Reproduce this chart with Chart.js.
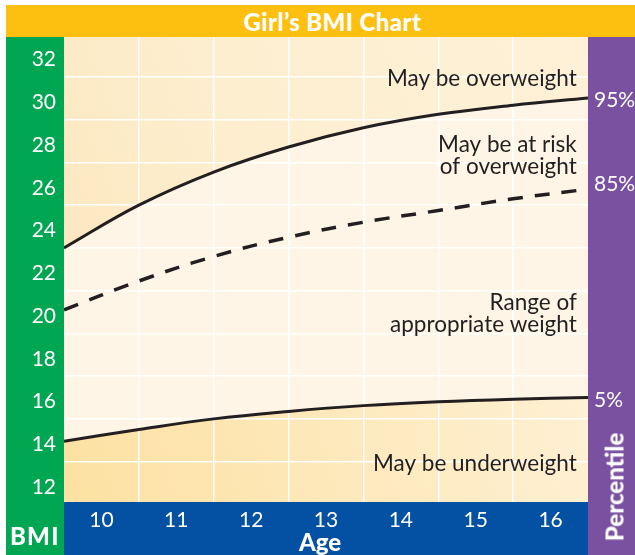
<!DOCTYPE html>
<html>
<head>
<meta charset="utf-8">
<title>Girl's BMI Chart</title>
<script src="https://cdn.jsdelivr.net/npm/chart.js@4.4.0/dist/chart.umd.min.js"></script>
<style>
  html, body { margin: 0; padding: 0; background: #fff; }
  #wrap { position: relative; width: 635px; height: 555px; overflow: hidden; font-family: Lato, "Open Sans", sans-serif; }
  .band { position: absolute; }
  #title { left: 6px; top: 5px; width: 629px; height: 32px; background: #FDC010; }
  #title span { position: absolute; left: 0; right: 0; top: 0; padding-left: 24px; text-align: center; line-height: 33px; color: #fff; font-weight: 900; font-size: 24px; letter-spacing: 0.4px; }
  #green { left: 6px; top: 37px; width: 58px; height: 518px; background: #00A651; }
  #blue { left: 64px; top: 502px; width: 524px; height: 53px; background: #0450A2; }
  #purple { left: 588px; top: 37px; width: 47px; height: 518px; background: #7A51A0; }
  #plotbg { left: 64px; top: 37px; width: 524px; height: 465px; background: #FFF5E6; }
  .lbl { position: absolute; color: #fff; font-weight: 900; white-space: nowrap; }
  #bmi { left: 10px; top: 521px; font-size: 24px; letter-spacing: 1.2px; }
  #age { left: 320px; top: 527px; font-size: 24px; transform: translateX(-50%); }
  #pct { left: 614px; top: 487px; font-size: 24px; transform: translate(-50%, -50%) rotate(-90deg); }
  canvas { position: absolute; left: 0; top: 0; }
</style>
</head>
<body>
<div id="wrap">
  <div class="band" id="title"><span>Girl’s BMI Chart</span></div>
  <div class="band" id="green"></div>
  <div class="band" id="purple"></div>
  <div class="band" id="blue"></div>
  <div class="band" id="plotbg"></div>
  <canvas id="bmiChart" width="635" height="555"></canvas>
  <div class="lbl" id="bmi">BMI</div>
  <div class="lbl" id="age">Age</div>
  <div class="lbl" id="pct">Percentile</div>
</div>
<script>
// ages where the curves were read (half years, chart runs 9.5 - 16.5)
const ages = [9.5, 10.5, 11.5, 12.5, 13.5, 14.5, 15.5, 16.5];
const p95 = [23.0, 25.0, 26.55, 27.72, 28.62, 29.25, 29.68, 30.02];
const p85 = [20.1, 21.45, 22.6, 23.5, 24.2, 24.75, 25.3, 25.75];
const p5 = [13.95, 14.5, 15.0, 15.35, 15.62, 15.8, 15.92, 16.0];

const ageTicks = [10, 11, 12, 13, 14, 15, 16];
const bmiTicks = [12, 14, 16, 18, 20, 22, 24, 26, 28, 30, 32];
const pctLabels = ['95%', '85%', '5%'];

const notes = [
  { lines: ['May be overweight'], bmi: 30.6 },
  { lines: ['May be at risk', 'of overweight'], bmi: 27.5 },
  { lines: ['Range of', 'appropriate weight'], bmi: 20.08 },
  { lines: ['May be underweight'], bmi: 12.55 }
];
const noteAge = 16.35;

const ink = '#231F20';

// grid at half years, labels on whole years
const ageAxisTicks = [];
ageTicks.forEach((a, i) => {
  ageAxisTicks.push({ value: a });
  if (i < ageTicks.length - 1) ageAxisTicks.push({ value: a + 0.5 });
});
// grid on odd BMI, labels on even
const bmiAxisTicks = [];
for (let v = bmiTicks[0]; v <= bmiTicks[bmiTicks.length - 1]; v++) bmiAxisTicks.push({ value: v });

function topFill(context) {
  const { ctx, chartArea } = context.chart;
  if (!chartArea) return '#FDEFD1';
  const g = ctx.createLinearGradient(chartArea.left, chartArea.top + 220, chartArea.right, chartArea.top);
  g.addColorStop(0, '#FCE8C0');
  g.addColorStop(0.35, '#FDEECF');
  g.addColorStop(1, '#FEF1D7');
  return g;
}

function bottomFill(context) {
  const { ctx, chartArea } = context.chart;
  if (!chartArea) return '#FDE6B0';
  const g = ctx.createLinearGradient(chartArea.left, chartArea.bottom, chartArea.right, chartArea.bottom - 110);
  g.addColorStop(0, '#FDE1A2');
  g.addColorStop(1, '#FEF0D3');
  return g;
}

const annotations = {
  id: 'annotations',
  afterDatasetsDraw(chart) {
    const { ctx, scales: { x, y }, chartArea } = chart;
    ctx.save();
    ctx.fillStyle = ink;
    ctx.font = '22.5px Lato, "Open Sans", sans-serif';
    ctx.textAlign = 'right';
    ctx.textBaseline = 'alphabetic';
    notes.forEach(n => {
      const px = x.getPixelForValue(noteAge);
      const py = y.getPixelForValue(n.bmi);
      n.lines.forEach((t, i) => ctx.fillText(t, px, py + i * 22));
    });

    // percentile names at the end of each curve
    ctx.fillStyle = '#fff';
    ctx.font = '21px Lato, "Open Sans", sans-serif';
    ctx.textAlign = 'left';
    ctx.textBaseline = 'middle';
    const nudge = [2, -5, 3];
    chart.data.datasets.forEach((ds, i) => {
      const last = ds.data[ds.data.length - 1];
      ctx.fillText(pctLabels[i], chartArea.right + 6, y.getPixelForValue(last.y) + nudge[i]);
    });
    ctx.restore();
  }
};

const toPoints = vals => vals.map((v, i) => ({ x: ages[i], y: v }));

new Chart(document.getElementById('bmiChart'), {
  type: 'line',
  data: {
    datasets: [
      {
        label: '95%',
        data: toPoints(p95),
        borderColor: ink,
        borderWidth: 3,
        fill: 'end',
        backgroundColor: topFill
      },
      {
        label: '85%',
        data: toPoints(p85),
        borderColor: ink,
        borderWidth: 3.5,
        borderDash: [15, 12],
        fill: false
      },
      {
        label: '5%',
        data: toPoints(p5),
        borderColor: ink,
        borderWidth: 3,
        fill: 'start',
        backgroundColor: bottomFill
      }
    ]
  },
  options: {
    responsive: false,
    animation: false,
    devicePixelRatio: 1,
    layout: { padding: { top: 37, right: 47, left: 0, bottom: 0 } },
    elements: {
      point: { radius: 0 },
      line: { tension: 0.4 }
    },
    datasets: { line: { clip: 0 } },
    scales: {
      x: {
        type: 'linear',
        min: 9.5,
        max: 16.5,
        afterFit: s => { s.height = 53; },
        afterBuildTicks: s => { s.ticks = ageAxisTicks.map(t => ({ ...t })); },
        border: { display: false },
        grid: {
          drawTicks: false,
          lineWidth: 1.5,
          color: c => (c.tick && c.tick.value % 1 !== 0) ? 'rgba(255,255,255,0.95)' : 'transparent'
        },
        ticks: {
          autoSkip: false,
          maxRotation: 0,
          color: '#fff',
          padding: 6,
          font: { family: 'Lato', size: 21 },
          callback: v => ageTicks.includes(v) ? String(v) : ''
        }
      },
      y: {
        type: 'linear',
        min: 11.11,
        max: 32.87,
        afterFit: s => { s.width = 64; },
        afterBuildTicks: s => { s.ticks = bmiAxisTicks.map(t => ({ ...t })); },
        border: { display: false },
        grid: {
          drawTicks: false,
          lineWidth: 1.5,
          color: c => (c.tick && c.tick.value % 2 === 1) ? 'rgba(255,255,255,0.95)' : 'transparent'
        },
        ticks: {
          autoSkip: false,
          color: '#fff',
          padding: 8,
          labelOffset: 4,
          font: { family: 'Lato', size: 21 },
          callback: v => bmiTicks.includes(v) ? String(v) : ''
        }
      }
    },
    plugins: {
      legend: { display: false },
      tooltip: { enabled: false },
      filler: { drawTime: 'beforeDraw' }
    }
  },
  plugins: [annotations]
});
</script>
</body>
</html>
